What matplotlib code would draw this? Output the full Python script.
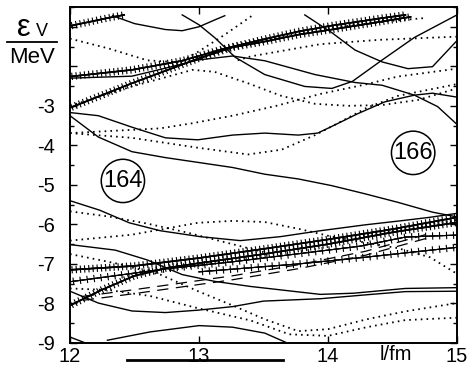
import matplotlib
matplotlib.use("Agg")
import matplotlib.pyplot as plt
from matplotlib import patheffects as pe
from matplotlib.lines import Line2D

plt.rcParams['font.family'] = ['Liberation Sans', 'DejaVu Sans']
plt.rcParams['axes.unicode_minus'] = False

# Single-particle levels eps_V (MeV) versus length parameter l (fm)

# levels drawn with crosses
cr1_l = [12.0, 12.29, 12.42]
cr1_e = [-0.98, -0.78, -0.70]
cr2_l = [12.0, 12.48, 12.87, 13.2, 13.5, 13.77, 14.03, 14.42, 14.6]
cr2_e = [-2.26, -2.09, -1.86, -1.55, -1.32, -1.12, -0.97, -0.78, -0.70]
cr3_l = [12.0, 12.48, 12.99, 13.26, 13.5, 13.77, 14.03, 14.3, 14.64]
cr3_e = [-3.05, -2.43, -1.81, -1.52, -1.38, -1.20, -1.07, -0.93, -0.75]
cr4_l = [12.0, 12.5, 13.0, 13.5, 14.0, 14.5, 15.0]
cr4_e = [-7.15, -7.05, -6.85, -6.62, -6.38, -6.12, -5.82]
cr5_l = [12.0, 12.25, 12.5, 12.75, 13.0, 13.5, 14.0, 14.5, 15.0]
cr5_e = [-8.05, -7.65, -7.30, -7.10, -6.98, -6.75, -6.50, -6.20, -5.95]
# levels drawn with sparse crosses
sp1_l = [12.0, 12.3, 12.75, 13.25, 13.75, 14.25, 14.6, 15.0]
sp1_e = [-7.45, -7.32, -7.12, -6.95, -6.75, -6.55, -6.32, -6.27]
sp2_l = [13.0, 13.77, 14.29, 15.0]
sp2_e = [-7.20, -7.00, -6.83, -6.58]

# solid levels
so1_l = [12.33, 12.5, 12.74, 12.87, 13.0, 13.12, 13.2]
so1_e = [-0.72, -0.92, -1.07, -1.10, -1.00, -0.83, -0.72]
so2_l = [12.87, 13.0, 13.12, 13.28, 13.51, 13.82, 14.03, 14.19, 14.42, 14.67, 15.0]
so2_e = [-0.70, -0.95, -1.27, -1.77, -2.21, -2.51, -2.56, -2.38, -1.84, -1.27, -0.70]
so3_l = [13.82, 14.03, 14.21, 14.42, 14.62, 14.81, 15.0]
so3_e = [-0.70, -1.15, -1.59, -1.89, -2.06, -2.01, -1.35]
so4_l = [12.0, 12.48, 12.8, 12.99, 13.26, 13.51, 13.9, 14.21, 14.42, 14.67, 14.85, 15.0]
so4_e = [-2.30, -2.25, -2.00, -1.84, -1.74, -1.86, -2.21, -2.41, -2.48, -2.73, -3.02, -3.47]
so5_l = [12.0, 12.22, 12.48, 12.74, 12.99, 13.26, 13.51, 13.77, 13.92, 14.03, 14.23, 14.44, 14.67, 14.81, 15.0]
so5_e = [-3.17, -3.25, -3.54, -3.81, -3.86, -3.74, -3.69, -3.74, -3.69, -3.52, -3.20, -2.90, -2.73, -2.68, -2.78]
so6_l = [12.0, 12.22, 12.48, 12.74, 12.99, 13.26, 13.51, 13.77, 14.03, 14.28, 14.54, 14.81, 15.0]
so6_e = [-3.25, -3.79, -4.16, -4.31, -4.43, -4.56, -4.73, -4.85, -5.02, -5.22, -5.44, -5.69, -5.81]
so7_l = [12.0, 12.23, 12.46, 12.70, 13.01, 13.32, 13.63, 13.94, 14.29, 14.56, 14.79, 15.0]
so7_e = [-5.40, -5.64, -5.96, -6.16, -6.31, -6.41, -6.31, -6.16, -6.01, -5.91, -5.82, -5.72]
so8_l = [12.0, 12.35, 12.6, 12.87, 13.12, 13.4, 13.94, 14.2, 14.6, 15.0]
so8_e = [-6.51, -6.65, -6.90, -7.27, -7.44, -7.57, -7.77, -7.74, -7.62, -7.60]
so9_l = [12.0, 12.22, 12.48, 12.74, 12.99, 13.26, 13.5, 13.94, 14.3, 14.6, 15.0]
so9_e = [-7.69, -7.99, -8.19, -8.23, -8.17, -8.08, -7.94, -7.88, -7.78, -7.70, -7.69]
so10_l = [12.29, 12.62, 13.0, 13.26, 13.51, 13.67]
so10_e = [-8.93, -8.72, -8.56, -8.60, -8.75, -8.98]
so11_l = [12.0, 12.12]
so11_e = [-8.85, -9.0]

# dotted levels
do1_l = [12.0, 12.3, 12.6, 12.85, 13.0, 13.2, 13.42]
do1_e = [-1.30, -1.55, -1.85, -1.90, -1.62, -1.20, -0.70]
do2_l = [13.3, 13.4, 13.94, 14.4, 15.0]
do2_e = [-1.85, -1.75, -1.44, -1.33, -1.25]
do3_l = [14.1, 14.5, 14.75]
do3_e = [-1.00, -0.85, -0.78]
do4_l = [12.0, 12.48, 12.95, 13.12, 13.38, 13.64, 13.9, 14.16, 14.42, 14.7, 15.0]
do4_e = [-3.00, -2.51, -2.09, -2.14, -2.43, -2.75, -2.95, -3.00, -2.98, -2.85, -2.56]
do5_l = [12.0, 12.7, 12.95, 13.26, 13.6, 13.94, 14.29, 14.54, 15.0]
do5_e = [-3.69, -3.57, -3.44, -3.25, -3.00, -2.70, -2.46, -2.26, -2.06]
do6_l = [12.0, 12.48, 12.99, 13.38, 13.64, 13.9, 14.1, 14.3, 14.54, 15.0]
do6_e = [-3.69, -3.81, -4.06, -4.23, -4.11, -3.74, -3.40, -3.05, -2.75, -2.45]
do7_l = [12.0, 12.3, 12.6, 12.9, 13.2, 13.5]
do7_e = [-5.67, -5.80, -5.98, -6.20, -6.45, -6.70]
do8_l = [12.0, 12.48, 12.99, 13.26, 13.51, 13.77, 14.03, 14.29, 14.54, 14.79, 15.0]
do8_e = [-6.41, -6.26, -5.96, -5.91, -5.94, -6.11, -6.31, -6.46, -6.60, -6.83, -7.25]
do9_l = [12.0, 12.35, 12.7, 13.0, 13.26, 13.51, 13.77, 14.0, 14.3, 14.6, 15.0]
do9_e = [-6.75, -6.98, -7.27, -7.70, -8.05, -8.40, -8.70, -8.65, -8.40, -8.20, -7.99]
do10_l = [12.0, 12.3, 12.62, 12.98, 13.4, 13.7, 14.0, 14.3, 14.6, 15.0]
do10_e = [-7.62, -7.66, -7.81, -8.11, -8.43, -8.78, -8.82, -8.60, -8.42, -8.36]

# double dashed levels
da1_l = [12.1, 12.5, 12.74, 13.26, 13.77, 14.29, 14.81]
da1_e = [-7.82, -7.65, -7.54, -7.30, -7.02, -6.68, -6.21]
da2_l = [12.1, 12.5, 12.74, 13.26, 13.77, 14.29, 14.81]
da2_e = [-7.92, -7.75, -7.64, -7.40, -7.12, -6.78, -6.31]

crossed = [(cr1_l, cr1_e), (cr2_l, cr2_e), (cr3_l, cr3_e), (cr4_l, cr4_e), (cr5_l, cr5_e)]
sparse = [(sp1_l, sp1_e), (sp2_l, sp2_e)]
solid = [(so1_l, so1_e), (so2_l, so2_e), (so3_l, so3_e), (so4_l, so4_e), (so5_l, so5_e),
         (so6_l, so6_e), (so7_l, so7_e), (so8_l, so8_e), (so9_l, so9_e), (so10_l, so10_e),
         (so11_l, so11_e)]
dotted = [(do1_l, do1_e), (do2_l, do2_e), (do3_l, do3_e), (do4_l, do4_e), (do5_l, do5_e),
          (do6_l, do6_e), (do7_l, do7_e), (do8_l, do8_e), (do9_l, do9_e), (do10_l, do10_e)]
dashed = [(da1_l, da1_e), (da2_l, da2_e)]

x_ticks = [12, 13, 14, 15]
y_ticks = [-9, -8, -7, -6, -5, -4, -3, -2, -1]
y_tick_labels = ['-9', '-8', '-7', '-6', '-5', '-4', '-3', '', '']

fig = plt.figure(figsize=(4.7, 3.73), dpi=100)
ax = fig.add_axes([70 / 470, 30 / 373, 387 / 470, 336 / 373])
ax.set_xlim(12, 15)
ax.set_ylim(-9, -0.70)

for l, e in solid:
    ax.plot(l, e, color='k', lw=1.0)
for l, e in dotted:
    ax.plot(l, e, color='k', lw=1.3, linestyle=(0, (0.9, 2.3)))
for l, e in dashed:
    ax.plot(l, e, color='k', lw=0.9, linestyle=(0, (9, 6)))

cross_fx = [pe.withTickedStroke(angle=90, spacing=3.0, length=0.75, linewidth=0.8),
            pe.withTickedStroke(angle=-90, spacing=3.0, length=0.75, linewidth=0.8),
            pe.Normal()]
for l, e in crossed:
    ax.plot(l, e, color='k', lw=1.1, path_effects=cross_fx)

sparse_fx = [pe.withTickedStroke(angle=90, spacing=5.0, length=0.45, linewidth=0.8),
             pe.withTickedStroke(angle=-90, spacing=5.0, length=0.45, linewidth=0.8),
             pe.Normal()]
for l, e in sparse:
    ax.plot(l, e, color='k', lw=0.8, path_effects=sparse_fx)

# nucleus labels
circ = dict(boxstyle='circle,pad=0.08', fc='white', ec='k', lw=1.1)
ax.text(12.41, -4.90, '164', fontsize=17, ha='center', va='center', bbox=circ)
ax.text(14.66, -4.19, '166', fontsize=17, ha='center', va='center', bbox=circ)

# axes frame and ticks
for s in ax.spines.values():
    s.set_linewidth(1.4)
ax.set_xticks(x_ticks)
ax.set_xticklabels([str(t) for t in x_ticks])
ax.set_yticks(y_ticks)
ax.set_yticklabels(y_tick_labels)
ax.set_yticks([-8.5, -7.5, -6.5, -5.5, -4.5, -3.5, -2.5, -1.5, -0.5], minor=True)
ax.tick_params(which='both', direction='in', left=True, right=True, top=True, bottom=True,
               width=1.0, labelsize=14.5)
ax.tick_params(which='major', length=5)
ax.tick_params(which='minor', length=3)
ax.tick_params(axis='x', pad=3)
ax.tick_params(axis='y', pad=11)

# axis captions
fig.text(396 / 470, 1 - 355 / 373, 'l/fm', fontsize=14.5, ha='center', va='center')
fig.text(17 / 470, 1 - 36 / 373, 'ε', fontsize=22, ha='left', va='baseline')
fig.text(36 / 470, 1 - 36 / 373, 'V', fontsize=13, ha='left', va='baseline')
fig.add_artist(Line2D([7 / 470, 57 / 470], [1 - 42 / 373, 1 - 42 / 373], color='k', lw=1.3))
fig.text(32 / 470, 1 - 47 / 373, 'MeV', fontsize=16, ha='center', va='top')
fig.add_artist(Line2D([127 / 470, 283 / 470], [1 - 360 / 373, 1 - 360 / 373], color='k', lw=2.0))

fig.savefig('out.png', dpi=100)
